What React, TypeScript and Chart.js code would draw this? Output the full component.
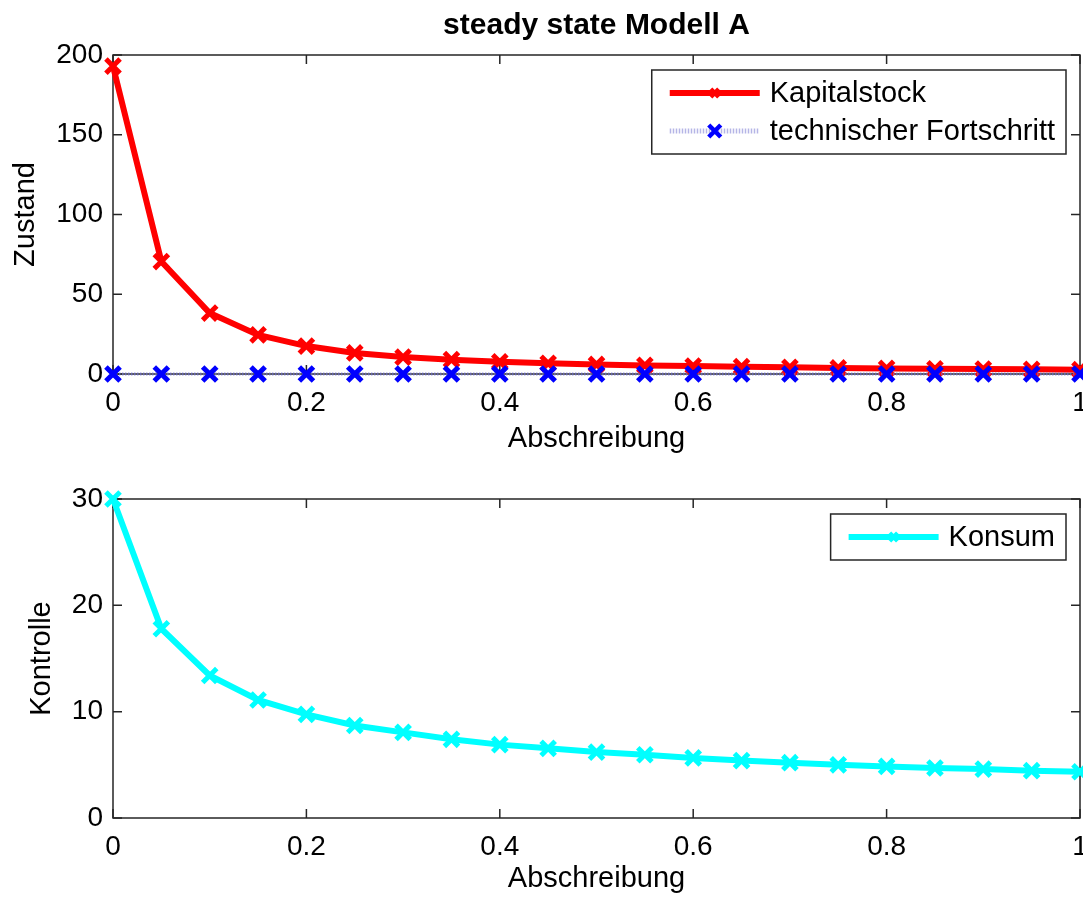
import React, { useEffect, useRef } from "react";
import { Chart, registerables } from "chart.js";

Chart.register(...registerables);

const TITLE = "steady state Modell A";
const X_TITLE = "Abschreibung";
const TOP_Y_TITLE = "Zustand";
const BOTTOM_Y_TITLE = "Kontrolle";

const abschreibung = [0, 0.05, 0.1, 0.15, 0.2, 0.25, 0.3, 0.35, 0.4, 0.45, 0.5, 0.55, 0.6, 0.65, 0.7, 0.75, 0.8, 0.85, 0.9, 0.95, 1];
const kapitalstock = [193, 70.5, 38.2, 24.5, 17.5, 13.2, 10.6, 9.0, 7.7, 6.7, 6.0, 5.4, 5.0, 4.6, 4.2, 3.8, 3.5, 3.3, 3.1, 2.9, 2.7];
const technischerFortschritt = [0, 0, 0, 0, 0, 0, 0, 0, 0, 0, 0, 0, 0, 0, 0, 0, 0, 0, 0, 0, 0];
const konsum = [30, 17.8, 13.4, 11.1, 9.75, 8.7, 8.05, 7.4, 6.9, 6.55, 6.2, 5.95, 5.65, 5.4, 5.2, 5.0, 4.85, 4.7, 4.6, 4.45, 4.35];

const xTickValues = [0, 0.2, 0.4, 0.6, 0.8, 1];
const xTickLabels = ["0", "0.2", "0.4", "0.6", "0.8", "1"];
const topYTicks = [0, 50, 100, 150, 200];
const bottomYTicks = [0, 10, 20, 30];

const FONT = "'Liberation Sans', Arial, Helvetica, sans-serif";
const TICK_SIZE = 28;
const LABEL_SIZE = 29;
const LEGEND_SIZE = 29;
const AXIS_COLOR = "#262626";
const CANVAS_W = 1100;

const toPoints = (ys: number[]) => abschreibung.map((x, i) => ({ x, y: ys[i] }));

const boxPlugin = {
  id: "matlabBox",
  beforeDatasetsDraw(chart: any) {
    const { ctx, chartArea, scales } = chart;
    const { left, right, top, bottom } = chartArea;
    const tl = 9;
    ctx.save();
    ctx.strokeStyle = AXIS_COLOR;
    ctx.lineWidth = 1.5;
    ctx.beginPath();
    scales.x.ticks.forEach((t: any) => {
      const px = scales.x.getPixelForValue(t.value);
      ctx.moveTo(px, bottom);
      ctx.lineTo(px, bottom - tl);
      ctx.moveTo(px, top);
      ctx.lineTo(px, top + tl);
    });
    scales.y.ticks.forEach((t: any) => {
      const py = scales.y.getPixelForValue(t.value);
      ctx.moveTo(left, py);
      ctx.lineTo(left + tl, py);
      ctx.moveTo(right, py);
      ctx.lineTo(right - tl, py);
    });
    ctx.stroke();
    ctx.strokeRect(left, top, right - left, bottom - top);
    ctx.restore();
  },
};

const titlePlugin = {
  id: "matlabTitle",
  afterDraw(chart: any, _args: any, opts: any) {
    if (!opts || !opts.text) return;
    const { ctx, chartArea } = chart;
    ctx.save();
    ctx.font = `bold 30px ${FONT}`;
    ctx.fillStyle = "#000";
    ctx.textAlign = "center";
    ctx.textBaseline = "middle";
    ctx.fillText(opts.text, (chartArea.left + chartArea.right) / 2, 26);
    ctx.restore();
  },
};

const drawX = (ctx: CanvasRenderingContext2D, x: number, y: number, r: number, color: string) => {
  ctx.save();
  ctx.strokeStyle = color;
  ctx.lineWidth = 4.5;
  ctx.setLineDash([]);
  ctx.beginPath();
  ctx.moveTo(x - r, y - r);
  ctx.lineTo(x + r, y + r);
  ctx.moveTo(x + r, y - r);
  ctx.lineTo(x - r, y + r);
  ctx.stroke();
  ctx.restore();
};

const legendPlugin = {
  id: "matlabLegend",
  afterDraw(chart: any) {
    const { ctx, chartArea } = chart;
    const ds = chart.data.datasets;
    ctx.save();
    ctx.font = `${LEGEND_SIZE}px ${FONT}`;
    const maxW = Math.max(...ds.map((d: any) => ctx.measureText(d.label).width));
    const w = 18 + 90 + 10 + maxW + 11;
    const h = 46 + (ds.length - 1) * 38;
    const right = chartArea.right - 14;
    const top = chartArea.top + 15;
    const left = right - w;
    ctx.fillStyle = "#fff";
    ctx.fillRect(left, top, w, h);
    ctx.strokeStyle = AXIS_COLOR;
    ctx.lineWidth = 1.5;
    ctx.strokeRect(left, top, w, h);
    ds.forEach((d: any, i: number) => {
      const cy = top + 23 + i * 38;
      ctx.save();
      ctx.strokeStyle = d.legendLineColor || d.borderColor;
      ctx.lineWidth = d.legendLineWidth || d.borderWidth;
      ctx.setLineDash(d.borderDash || []);
      ctx.beginPath();
      ctx.moveTo(left + 18, cy);
      ctx.lineTo(left + 108, cy);
      ctx.stroke();
      ctx.restore();
      drawX(ctx, left + 63, cy, d.legendMarker || 5, d.pointBorderColor);
      ctx.fillStyle = "#000";
      ctx.textAlign = "left";
      ctx.textBaseline = "middle";
      ctx.fillText(d.label, left + 118, cy + 1);
    });
    ctx.restore();
  },
};

function makeOptions(opts: {
  yTicks: number[];
  yMax: number;
  yTitle: string;
  yTitlePad: number;
  padTop: number;
  xHeight: number;
  xTitlePadBottom: number;
  title?: string;
}) {
  return {
    responsive: false,
    animation: false as const,
    layout: { padding: { top: opts.padTop, left: 0, right: CANVAS_W - 1080, bottom: 0 } },
    plugins: {
      legend: { display: false },
      tooltip: { enabled: false },
      title: { display: false },
      matlabTitle: { text: opts.title || "" },
    },
    scales: {
      x: {
        type: "linear" as const,
        min: 0,
        max: 1,
        afterBuildTicks: (s: any) => {
          s.ticks = xTickValues.map((v) => ({ value: v }));
        },
        afterFit: (s: any) => {
          s.height = opts.xHeight;
        },
        grid: { display: false, drawTicks: false },
        border: { display: false },
        ticks: {
          padding: 12,
          maxRotation: 0,
          autoSkip: false,
          color: "#000",
          font: { family: FONT, size: TICK_SIZE },
          callback: (v: any) => {
            const idx = xTickValues.indexOf(Number(v));
            return idx >= 0 ? xTickLabels[idx] : "";
          },
        },
        title: {
          display: true,
          text: X_TITLE,
          color: "#000",
          font: { family: FONT, size: LABEL_SIZE },
          padding: { top: 0, bottom: opts.xTitlePadBottom },
        },
      },
      y: {
        type: "linear" as const,
        min: 0,
        max: opts.yMax,
        afterBuildTicks: (s: any) => {
          s.ticks = opts.yTicks.map((v) => ({ value: v }));
        },
        afterFit: (s: any) => {
          s.width = 113;
        },
        grid: { display: false, drawTicks: false },
        border: { display: false },
        ticks: {
          padding: 10,
          color: "#000",
          font: { family: FONT, size: TICK_SIZE },
          callback: (v: any) => String(v),
        },
        title: {
          display: true,
          text: opts.yTitle,
          color: "#000",
          font: { family: FONT, size: LABEL_SIZE },
          padding: { top: opts.yTitlePad, bottom: 0 },
        },
      },
    },
  };
}

export default function App() {
  const topRef = useRef<HTMLCanvasElement | null>(null);
  const bottomRef = useRef<HTMLCanvasElement | null>(null);

  useEffect(() => {
    if (!topRef.current || !bottomRef.current) return;
    const top = new Chart(topRef.current, {
      type: "line",
      data: {
        datasets: [
          {
            label: "Kapitalstock",
            data: toPoints(kapitalstock),
            borderColor: "#ff0000",
            borderWidth: 6,
            pointStyle: "crossRot",
            pointRadius: 10,
            pointBorderWidth: 5,
            pointBorderColor: "#ff0000",
            pointBackgroundColor: "#ff0000",
            tension: 0,
            clip: false,
            order: 2,
            legendMarker: 4,
          },
          {
            label: "technischer Fortschritt",
            data: toPoints(technischerFortschritt),
            borderColor: "rgba(110,110,210,0.7)",
            borderWidth: 3,
            borderDash: [1.5, 1.5],
            legendLineColor: "rgba(120,120,210,0.55)",
            legendLineWidth: 5,
            pointStyle: "crossRot",
            pointRadius: 10,
            pointBorderWidth: 5,
            pointBorderColor: "#0000ff",
            pointBackgroundColor: "#0000ff",
            tension: 0,
            clip: false,
            order: 1,
            legendMarker: 6,
          },
        ],
      } as any,
      options: makeOptions({
        yTicks: topYTicks,
        yMax: 200,
        yTitle: TOP_Y_TITLE,
        yTitlePad: 9,
        padTop: 55,
        xHeight: 96,
        xTitlePadBottom: 14,
        title: TITLE,
      }) as any,
      plugins: [boxPlugin, titlePlugin, legendPlugin],
    });
    const bottom = new Chart(bottomRef.current, {
      type: "line",
      data: {
        datasets: [
          {
            label: "Konsum",
            data: toPoints(konsum),
            borderColor: "#00ffff",
            borderWidth: 6,
            pointStyle: "crossRot",
            pointRadius: 10,
            pointBorderWidth: 5,
            pointBorderColor: "#00ffff",
            pointBackgroundColor: "#00ffff",
            tension: 0,
            clip: false,
            legendMarker: 4,
          },
        ],
      } as any,
      options: makeOptions({
        yTicks: bottomYTicks,
        yMax: 30,
        yTitle: BOTTOM_Y_TITLE,
        yTitlePad: 25,
        padTop: 59,
        xHeight: 79,
        xTitlePadBottom: 1,
      }) as any,
      plugins: [boxPlugin, legendPlugin],
    });
    return () => {
      top.destroy();
      bottom.destroy();
    };
  }, []);

  return (
    <div style={{ position: "fixed", left: 0, top: 0, width: 1083, height: 897, background: "#fff", overflow: "hidden" }}>
      <canvas
        ref={topRef}
        width={CANVAS_W}
        height={470}
        style={{ position: "absolute", left: 0, top: 0, width: CANVAS_W, height: 470 }}
      />
      <canvas
        ref={bottomRef}
        width={CANVAS_W}
        height={457}
        style={{ position: "absolute", left: 0, top: 440, width: CANVAS_W, height: 457 }}
      />
    </div>
  );
}
